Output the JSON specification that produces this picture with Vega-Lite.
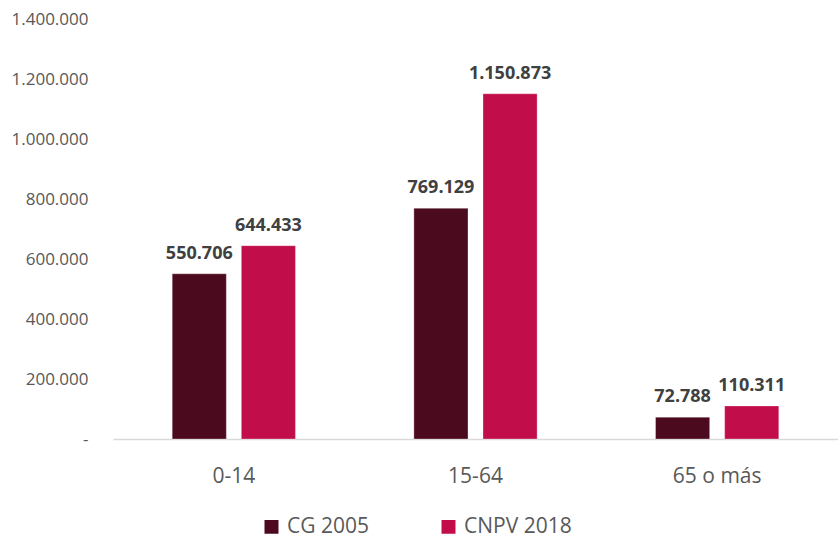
{
  "$schema": "https://vega.github.io/schema/vega-lite/v6.json",
  "width": 725,
  "height": 420,
  "autosize": {"type": "none"},
  "padding": {"left": 113, "top": 19, "right": 0, "bottom": 100},
  "background": "white",
  "config": {
    "view": {"stroke": null},
    "font": "Open Sans",
    "locale": {"number": {"decimal": ",", "thousands": ".", "grouping": [3], "currency": ["$", ""]}}
  },
  "data": {
    "values": [
      {"grupo": "0-14", "serie": "CG 2005", "valor": 550706},
      {"grupo": "0-14", "serie": "CNPV 2018", "valor": 644433},
      {"grupo": "15-64", "serie": "CG 2005", "valor": 769129},
      {"grupo": "15-64", "serie": "CNPV 2018", "valor": 1150873},
      {"grupo": "65 o más", "serie": "CG 2005", "valor": 72788},
      {"grupo": "65 o más", "serie": "CNPV 2018", "valor": 110311}
    ]
  },
  "encoding": {
    "x": {
      "field": "grupo", "type": "nominal", "sort": null, "title": null,
      "scale": {"paddingInner": 0.49, "paddingOuter": 0.245},
      "axis": {"labelAngle": 0, "labelFontSize": 21, "labelColor": "#595959", "ticks": false, "domainColor": "#d9d9d9", "domainWidth": 1.5, "labelPadding": 26}
    },
    "xOffset": {"field": "serie", "type": "nominal", "scale": {"paddingInner": 0.217, "paddingOuter": 0}},
    "y": {
      "field": "valor", "type": "quantitative", "title": null,
      "scale": {"domain": [0, 1400000], "nice": false},
      "axis": {"values": [0, 200000, 400000, 600000, 800000, 1000000, 1200000, 1400000], "labelExpr": "datum.value == 0 ? '-' : format(datum.value, ',.0f')", "grid": false, "domain": false, "ticks": false, "labelFontSize": 17, "labelColor": "#595959", "labelPadding": 25}
    }
  },
  "layer": [
    {
      "mark": {"type": "bar", "stroke": "#ffffff", "strokeOpacity": 0.3},
      "encoding": {
        "color": {
          "field": "serie", "type": "nominal", "title": null,
          "scale": {"domain": ["CG 2005", "CNPV 2018"], "range": ["#4C0A1F", "#C10E4B"]},
          "legend": {"orient": "none", "legendX": 148, "legendY": 497, "direction": "horizontal", "symbolType": "square", "symbolSize": 240, "labelFontSize": 21, "labelColor": "#595959", "columnPadding": 68, "labelOffset": 5}
        }
      }
    },
    {
      "mark": {"type": "text", "dy": -20, "fontWeight": "bold", "fontSize": 18, "color": "#404040"},
      "encoding": {
        "text": {"field": "valor", "type": "quantitative", "format": ",.0f"}
      }
    }
  ]
}
